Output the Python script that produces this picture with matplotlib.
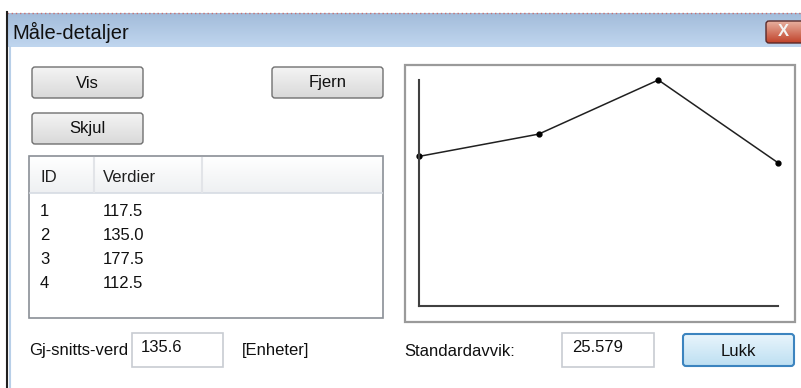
import numpy as np
import matplotlib
matplotlib.use('Agg')
import matplotlib.pyplot as plt
from matplotlib.patches import Rectangle, FancyBboxPatch

# Data shown in the dialog
ids = [1, 2, 3, 4]
values = [117.5, 135.0, 177.5, 112.5]
title = 'Måle-detaljer'
col_headers = ['ID', 'Verdier']
button_labels = ['Vis', 'Fjern', 'Skjul', 'Lukk']
mean_label = 'Gj-snitts-verd'
unit_label = '[Enheter]'
std_label = 'Standardavvik:'

mean_val = np.mean(values)
std_val = np.std(values)

plt.rcParams['font.family'] = ['Liberation Sans', 'DejaVu Sans']

W, H = 801, 388
fig = plt.figure(figsize=(W / 100, H / 100), dpi=100)
bg = fig.add_axes([0, 0, 1, 1])
bg.set_xlim(0, W)
bg.set_ylim(H, 0)
bg.axis('off')


def gradient_box(x0, y0, x1, y1, c_top, c_bot, edge, radius=3, lw=1.0, z=2):
    patch = FancyBboxPatch((x0, y0), x1 - x0, y1 - y0,
                           boxstyle=f'round,pad=0,rounding_size={radius}',
                           fc='none', ec=edge, lw=lw, zorder=z + 1)
    bg.add_patch(patch)
    grad = np.linspace(0, 1, 64)[:, None, None]
    top = np.array(matplotlib.colors.to_rgb(c_top))
    bot = np.array(matplotlib.colors.to_rgb(c_bot))
    img = top * (1 - grad) + bot * grad
    im = bg.imshow(img, extent=(x0, x1, y1, y0), aspect='auto', zorder=z)
    im.set_clip_path(patch)


# window frame
bg.plot([6.5, W], [12.5, 12.5], color='#c87070', lw=1, ls=(0, (1, 2)), zorder=5)
bg.plot([6.5, 6.5], [12, H], color='#202020', lw=1.5, zorder=5)
bg.plot([10, 10], [47, H], color='#b8cfe8', lw=1.5, zorder=5)
gradient_box(7, 13, W + 5, 47, '#a3bcda', '#c0d6ef', 'none', radius=0.1, lw=0, z=1)
bg.text(12, 32, title, fontsize=14.5, va='center', ha='left', color='#101010', zorder=6)

# close button
gradient_box(766, 21, W + 6, 43, '#e8b0a0', '#c0432a', '#5a2a2a', radius=3, z=4)
bg.text(783, 32, 'X', fontsize=12, fontweight='bold', color='#f4f4f4',
        ha='center', va='center', zorder=7)

# buttons
btns = [(32, 67, 143, 98), (272, 67, 383, 98), (32, 113, 143, 144)]
for (x0, y0, x1, y1), lab in zip(btns, button_labels[:3]):
    gradient_box(x0, y0, x1, y1, '#f4f4f4', '#d9d9d9', '#707070', radius=3)
    bg.text((x0 + x1) / 2, (y0 + y1) / 2 + 0.5, lab, fontsize=12,
            ha='center', va='center', color='#101010', zorder=6)

# list view
bg.add_patch(Rectangle((29, 156), 354, 162, fc='white', ec='#8a8f96', lw=1.2, zorder=2))
gradient_box(30, 157, 382, 193, '#ffffff', '#eef0f2', 'none', radius=0.1, lw=0, z=2)
bg.plot([30, 382], [193, 193], color='#d6dbe3', lw=1.2, zorder=4)
for cx in [94, 202]:
    bg.plot([cx, cx], [158, 192], color='#e2e4e8', lw=1.5, zorder=4)
bg.text(40, 178, col_headers[0], fontsize=12, va='center', color='#202020', zorder=6)
bg.text(103, 178, col_headers[1], fontsize=12, va='center', color='#202020', zorder=6)
for i, (idx, v) in enumerate(zip(ids, values)):
    y = 212 + 24 * i
    bg.text(40, y, str(idx), fontsize=12, va='center', color='#101010', zorder=6)
    bg.text(103, y, f'{v:.1f}', fontsize=12, va='center', color='#101010', zorder=6)

# bottom row
bg.text(29, 351, mean_label, fontsize=12, va='center', color='#101010', zorder=6)
bg.add_patch(Rectangle((132, 333), 91, 34, fc='white', ec='#c8ccd2', lw=1.2, zorder=2))
bg.text(141, 348, f'{mean_val:.1f}', fontsize=12, va='center', color='#101010', zorder=6)
bg.text(242, 351, unit_label, fontsize=12, va='center', color='#101010', zorder=6)
bg.text(404, 351, std_label, fontsize=12, va='center', color='#101010', zorder=6)
bg.add_patch(Rectangle((562, 333), 92, 34, fc='white', ec='#c8ccd2', lw=1.2, zorder=2))
bg.text(572, 348, f'{std_val:.3f}', fontsize=12, va='center', color='#101010', zorder=6)
gradient_box(683, 334, 794, 366, '#e9f5fc', '#bddff2', '#3c84bf', radius=3, lw=1.5)
bg.text(738.5, 351, button_labels[3], fontsize=12, ha='center', va='center',
        color='#101010', zorder=6)

# chart frame
bg.add_patch(Rectangle((405, 65), 390, 257, fc='white', ec='#9a9a9a', lw=1.6, zorder=2))

# chart
ax = fig.add_axes([419 / W, (H - 306) / H, (778 - 419) / W, (306 - 80) / H])
ax.patch.set_alpha(0)
ax.plot(ids, values, color='#202020', lw=1.1, marker='o', ms=3.5,
        mfc='black', mec='black', clip_on=False)
ax.set_xlim(ids[0], ids[-1])
ax.set_ylim(0, max(values))
ax.set_xticks([])
ax.set_yticks([])
for s in ['top', 'right']:
    ax.spines[s].set_visible(False)
for s in ['left', 'bottom']:
    ax.spines[s].set_color('#404040')
    ax.spines[s].set_linewidth(1.5)

fig.savefig('out.png', dpi=100)
